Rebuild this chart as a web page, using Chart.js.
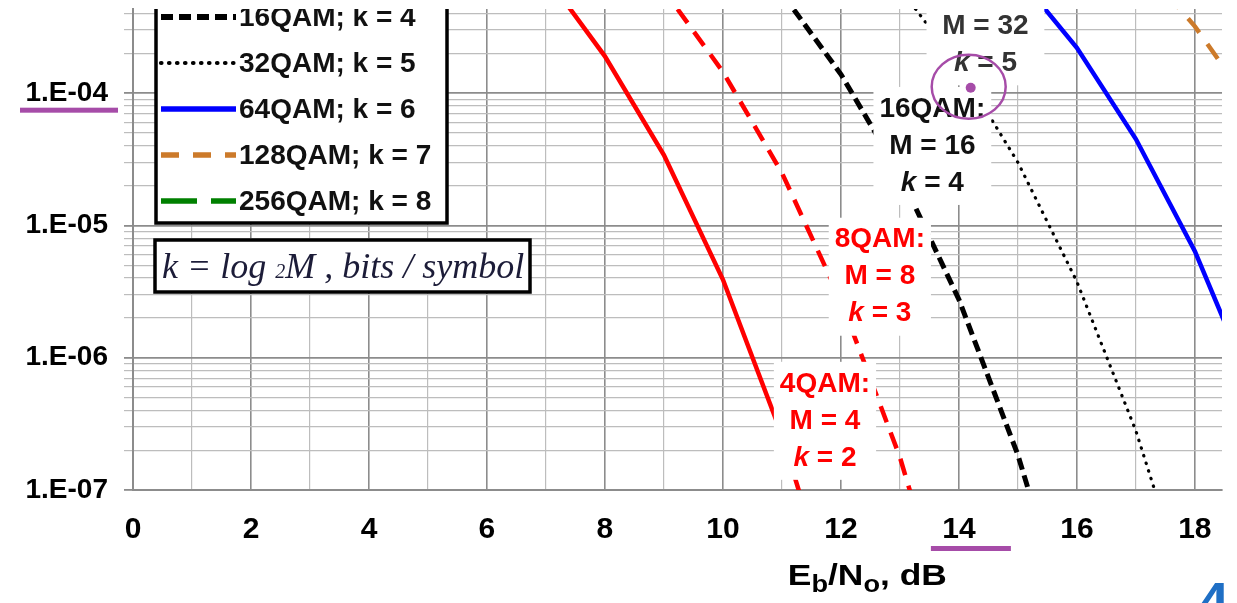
<!DOCTYPE html>
<html>
<head>
<meta charset="utf-8">
<script src="https://cdn.jsdelivr.net/npm/chart.js@4.4.0/dist/chart.umd.min.js"></script>
<style>
  html, body { margin: 0; padding: 0; background: #fff; }
  canvas { display: block; }
</style>
</head>
<body>
<canvas id="ber" width="1237" height="603"></canvas>
<script>
// Eb/No, dB
const ebN0 = [6, 7, 8, 9, 10, 11, 12, 13, 14, 15, 16, 17, 18, 19, 20];
// bit error rate
const ber4QAM   = [2.4e-3, 7.7e-4, 1.9e-4, 3.4e-5, 3.9e-6, 2.6e-7, 9.0e-9, null, null, null, null, null, null, null, null];
const ber8QAM   = [null, null, 1.9e-3, 6.0e-4, 1.45e-4, 2.5e-5, 2.7e-6, 1.77e-7, 5.7e-9, null, null, null, null, null, null];
const ber16QAM  = [null, null, null, null, 1.76e-3, 5.7e-4, 1.39e-4, 2.43e-5, 2.76e-6, 1.84e-7, 6.2e-9, null, null, null, null];
const ber32QAM  = [null, null, null, null, null, null, 1.85e-3, 6.2e-4, 1.6e-4, 3.0e-5, 3.76e-6, 2.8e-7, 1.1e-8, null, null];
const ber64QAM  = [null, null, null, null, null, null, null, null, 2.1e-3, 7.7e-4, 2.2e-4, 4.5e-5, 6.4e-6, 5.5e-7, 2.6e-8];
const ber128QAM = [null, null, null, null, null, null, null, null, null, null, 2.7e-3, 1.04e-3, 3.2e-4, 7.5e-5, 1.24e-5];
const ber256QAM = [null, null, null, null, null, null, null, null, null, null, null, null, 3.5e-3, 1.46e-3, 5.1e-4];

const seriesNames = ['4QAM; k = 2', '8QAM; k = 3', '16QAM; k = 4', '32QAM; k = 5', '64QAM; k = 6', '128QAM; k = 7', '256QAM; k = 8'];
const xTickValues = [0, 1, 2, 3, 4, 5, 6, 7, 8, 9, 10, 11, 12, 13, 14, 15, 16, 17, 18];
const yDecades = [1e-7, 1e-6, 1e-5, 1e-4];
const yTickLabels = ['1.E-07', '1.E-06', '1.E-05', '1.E-04'];
const yMantissas = [1, 2, 3, 4, 5, 6, 7, 8, 9];

const X_MAX = 18.46;
const Y_MAX = 4.33e-4;
const FONT = '"Liberation Sans", Arial, sans-serif';
const PURPLE = '#a64ca8';

// labels written inside the plot (anchor = centre of first line)
const curveLabels = [
  { x: 11.73, y: 6.35e-7, lines: ['4QAM:', 'M = 4', 'k = 2'], color: '#ff0000' },
  { x: 12.66, y: 7.8e-6, lines: ['8QAM:', 'M = 8', 'k = 3'], color: '#ff0000' },
  { x: 13.55, y: 7.6e-5, lines: ['16QAM:', 'M = 16', 'k = 4'], color: '#111111' },
  { x: 14.45, y: 6.1e-4, lines: ['32QAM:', 'M = 32', 'k = 5'], color: '#333333' }
];

function pts(arr) {
  return ebN0.map((v, i) => ({ x: v, y: arr[i] }));
}

const styles = [
  { data: ber4QAM,   color: '#ff0000', width: 4.5, dash: [] },
  { data: ber8QAM,   color: '#ff0000', width: 4.5, dash: [17, 11] },
  { data: ber16QAM,  color: '#000000', width: 5, dash: [12, 6] },
  { data: ber32QAM,  color: '#000000', width: 3.2, dash: [0.5, 7.5], cap: 'round' },
  { data: ber64QAM,  color: '#0000ff', width: 4.5, dash: [] },
  { data: ber128QAM, color: '#cc7a2a', width: 4.5, dash: [18, 14] },
  { data: ber256QAM, color: '#008000', width: 4.5, dash: [36, 14] }
];

const datasets = styles.map((s, i) => ({
  label: seriesNames[i],
  data: pts(s.data),
  borderColor: s.color,
  borderWidth: s.width,
  borderDash: s.dash,
  borderCapStyle: s.cap || 'butt',
  pointRadius: 0,
  tension: 0,
  fill: false
}));

function isDecade(v) {
  const l = Math.log10(v);
  return Math.abs(l - Math.round(l)) < 1e-9;
}

// k italic + rest bold
function drawKLine(ctx, text, cx, cy, size) {
  const rest = text.slice(1);
  ctx.font = 'italic bold ' + size + 'px ' + FONT;
  const wk = ctx.measureText('k').width;
  ctx.font = 'bold ' + size + 'px ' + FONT;
  const wr = ctx.measureText(rest).width;
  const x0 = cx - (wk + wr) / 2;
  ctx.textAlign = 'left';
  ctx.font = 'italic bold ' + size + 'px ' + FONT;
  ctx.fillText('k', x0, cy);
  ctx.font = 'bold ' + size + 'px ' + FONT;
  ctx.fillText(rest, x0 + wk, cy);
}

const decor = {
  id: 'decor',
  afterDatasetsDraw(chart) {
    const { ctx, chartArea: a, scales: { x, y } } = chart;
    ctx.save();
    ctx.beginPath();
    ctx.rect(a.left, a.top, a.right - a.left, a.bottom - a.top);
    ctx.clip();

    // curve labels with white backing
    const lineGap = 37, size = 28;
    curveLabels.forEach(l => {
      const cx = x.getPixelForValue(l.x);
      const cy = y.getPixelForValue(l.y);
      ctx.font = 'bold ' + size + 'px ' + FONT;
      const w = Math.max(...l.lines.map(t => ctx.measureText(t).width)) + 12;
      ctx.fillStyle = '#fff';
      ctx.fillRect(cx - w / 2, cy - 22, w, lineGap * (l.lines.length - 1) + 44);
      ctx.fillStyle = l.color;
      ctx.textBaseline = 'middle';
      l.lines.forEach((t, i) => {
        const ty = cy + i * lineGap;
        if (t.startsWith('k')) {
          drawKLine(ctx, t, cx, ty, size);
        } else {
          ctx.textAlign = 'center';
          ctx.font = 'bold ' + size + 'px ' + FONT;
          ctx.fillText(t, cx, ty);
        }
      });
    });

    // legend box
    const lx = a.left + 23, lr = a.left + 314, rowGap = 46;
    const lastRow = a.top + 192;
    const n = chart.data.datasets.length;
    const firstRow = lastRow - (n - 1) * rowGap;
    ctx.fillStyle = '#fff';
    ctx.fillRect(lx, firstRow - 30, lr - lx, lastRow - firstRow + 52);
    ctx.strokeStyle = '#000';
    ctx.lineWidth = 3.5;
    ctx.strokeRect(lx, firstRow - 30, lr - lx, lastRow - firstRow + 52);
    chart.data.datasets.forEach((d, i) => {
      const ry = firstRow + i * rowGap;
      ctx.save();
      ctx.strokeStyle = d.borderColor;
      ctx.lineWidth = d.borderWidth + 1;
      ctx.setLineDash(d.borderDash);
      ctx.lineCap = d.borderCapStyle;
      ctx.beginPath();
      ctx.moveTo(lx + 5, ry);
      ctx.lineTo(lx + 80, ry);
      ctx.stroke();
      ctx.restore();
      ctx.fillStyle = '#111';
      ctx.font = 'bold 28px ' + FONT;
      ctx.textAlign = 'left';
      ctx.textBaseline = 'middle';
      ctx.fillText(d.label, lx + 83, ry + 1);
    });

    // formula box
    const fx = a.left + 22, fy = a.top + 231, fw = 375, fh = 52;
    ctx.fillStyle = '#fff';
    ctx.fillRect(fx, fy, fw, fh);
    ctx.lineWidth = 3.5;
    ctx.strokeStyle = '#000';
    ctx.strokeRect(fx, fy, fw, fh);
    ctx.fillStyle = '#1c1c38';
    ctx.textBaseline = 'alphabetic';
    ctx.textAlign = 'left';
    const serif = '"Liberation Serif", "Times New Roman", serif';
    let tx = fx + 7;
    const base = fy + 38;
    ctx.font = 'italic 36px ' + serif;
    ctx.fillText('k = log ', tx, base);
    tx += ctx.measureText('k = log ').width;
    ctx.font = 'italic 20px ' + serif;
    ctx.fillText('2', tx, base);
    tx += ctx.measureText('2').width;
    ctx.font = 'italic 36px ' + serif;
    ctx.fillText('M , bits / symbol', tx, base);

    // circled point
    const px = x.getPixelForValue(14.2), py = y.getPixelForValue(1.1e-4);
    ctx.strokeStyle = PURPLE;
    ctx.lineWidth = 2.5;
    ctx.beginPath();
    ctx.ellipse(px - 2, py - 1, 37, 32, 0, 0, Math.PI * 2);
    ctx.stroke();
    ctx.fillStyle = PURPLE;
    ctx.beginPath();
    ctx.arc(px, py, 5, 0, Math.PI * 2);
    ctx.fill();
    ctx.restore();

    // underlines
    ctx.save();
    ctx.fillStyle = PURPLE;
    const uy = y.getPixelForValue(1e-4) + 17;
    ctx.fillRect(20, uy - 2.5, 98, 5);
    const ux = x.getPixelForValue(14);
    ctx.fillRect(ux - 28, a.bottom + 56, 80, 5);

    // axis title with subscripts (slightly wide lettering)
    let ax = x.getPixelForValue(11.1);
    const ab = a.bottom + 95;
    ctx.fillStyle = '#000';
    ctx.textAlign = 'left';
    ctx.textBaseline = 'alphabetic';
    const parts = [['E', 30, 0], ['b', 23, 7], ['/N', 30, 0], ['o', 23, 7], [', dB', 30, 0]];
    parts.forEach(p => {
      ctx.save();
      ctx.translate(ax, ab + p[2]);
      ctx.scale(1.18, 1);
      ctx.font = 'bold ' + p[1] + 'px ' + FONT;
      ctx.fillText(p[0], 0, 0);
      ax += ctx.measureText(p[0]).width * 1.18;
      ctx.restore();
    });

    // slide number fragment at bottom right
    ctx.fillStyle = '#1f6fc5';
    ctx.font = 'bold 56px ' + FONT;
    ctx.textBaseline = 'top';
    ctx.fillText('4', 1198, 578);
    ctx.restore();
  }
};

new Chart(document.getElementById('ber'), {
  type: 'line',
  data: { datasets },
  plugins: [decor],
  options: {
    responsive: false,
    animation: false,
    devicePixelRatio: 1,
    layout: { padding: { top: 9, right: 15, left: 0, bottom: 0 } },
    plugins: { legend: { display: false }, tooltip: { enabled: false } },
    scales: {
      x: {
        type: 'linear',
        min: 0,
        max: X_MAX,
        afterBuildTicks: s => { s.ticks = xTickValues.map(v => ({ value: v })); },
        afterFit: s => { s.height = 113; s.paddingLeft = 0; s.paddingRight = 0; },
        ticks: {
          autoSkip: false,
          maxRotation: 0,
          padding: 22,
          color: '#000',
          font: { family: FONT, size: 30, weight: 'bold' },
          callback: v => (v % 2 === 0 ? String(v) : '')
        },
        grid: {
          drawTicks: false,
          color: c => (c.tick && c.tick.value % 2 === 0 ? '#8c8c8c' : '#bdbdbd'),
          lineWidth: c => (c.tick && c.tick.value % 2 === 0 ? 1.6 : 1.2)
        },
        border: { color: '#8c8c8c', width: 2 }
      },
      y: {
        type: 'logarithmic',
        min: 1e-7,
        max: Y_MAX,
        afterBuildTicks: s => {
          const t = [];
          yDecades.forEach(d => yMantissas.forEach(m => {
            const v = m * d;
            if (v <= Y_MAX) t.push({ value: v });
          }));
          s.ticks = t;
        },
        afterFit: s => { s.width = 133; s.paddingTop = 0; s.paddingBottom = 0; },
        ticks: {
          autoSkip: false,
          padding: 16,
          color: '#000',
          font: { family: FONT, size: 28, weight: 'bold' },
          callback: v => {
            if (!isDecade(v)) return '';
            const i = yDecades.findIndex(d => Math.abs(d - v) / d < 1e-6);
            return i >= 0 ? yTickLabels[i] : '';
          }
        },
        grid: {
          tickLength: 9,
          color: c => (c.tick && isDecade(c.tick.value) ? '#8c8c8c' : '#bdbdbd'),
          lineWidth: c => (c.tick && isDecade(c.tick.value) ? 1.8 : 1.2)
        },
        border: { color: '#8c8c8c', width: 2 }
      }
    }
  }
});
</script>
</body>
</html>
